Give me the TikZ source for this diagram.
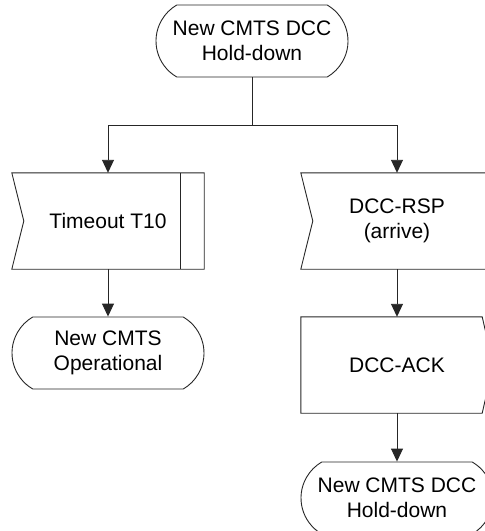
\documentclass[tikz,border=0pt]{standalone}
\usepackage{fontspec}
\setmainfont{Liberation Sans}
\usetikzlibrary{arrows.meta,calc,shapes.misc}
\begin{document}
\begin{tikzpicture}[x=1pt,y=-1pt,
  every node/.style={font=\fontsize{21}{25}\selectfont, align=center, inner sep=0pt},
  line/.style={draw=black!85, line width=0.9pt},
  arr/.style={line, -{Triangle[length=13pt,width=12pt]}},
  term/.style={rounded rectangle, rounded rectangle arc length=120, line, minimum width=192pt, minimum height=72pt},
  frame/.style={rectangle, minimum width=192pt, minimum height=96pt}]
\useasboundingbox (0,0) rectangle (485,531);
\node[term] (start) at (252,41) {New CMTS DCC\\Hold-down};
\node[frame] (t10) at (108,221) {Timeout T10};
\node[frame] (rsp) at (397,221) {DCC-RSP\\(arrive)};
\node[term] (oper) at (108,353) {New CMTS\\Operational};
\node[frame] (ack) at (397,365) {DCC-ACK};
\node[term] (hold) at (397,498) {New CMTS DCC\\Hold-down};
\draw[line] (t10.north west) -- (t10.north east) -- (t10.south east) -- (t10.south west) -- ($(t10.west)+(12,0)$) -- cycle;
\draw[line] ($(t10.north east)+(-24,0)$) -- ($(t10.south east)+(-24,0)$);
\draw[line] (rsp.north west) -- (rsp.north east) -- (rsp.south east) -- (rsp.south west) -- ($(rsp.west)+(12,0)$) -- cycle;
\draw[line] (ack.north west) -- ($(ack.north east)+(-11,0)$) -- (ack.east) -- ($(ack.south east)+(-11,0)$) -- (ack.south west) -- cycle;
\coordinate (split) at ($(start.south)+(0,48)$);
\draw[line] (start.south) -- (split);
\draw[arr] (split) -| (t10.north);
\draw[arr] (split) -| (rsp.north);
\draw[arr] (t10.south) -- (oper.north);
\draw[arr] (rsp.south) -- (ack.north);
\draw[arr] (ack.south) -- (hold.north);
\end{tikzpicture}
\end{document}
